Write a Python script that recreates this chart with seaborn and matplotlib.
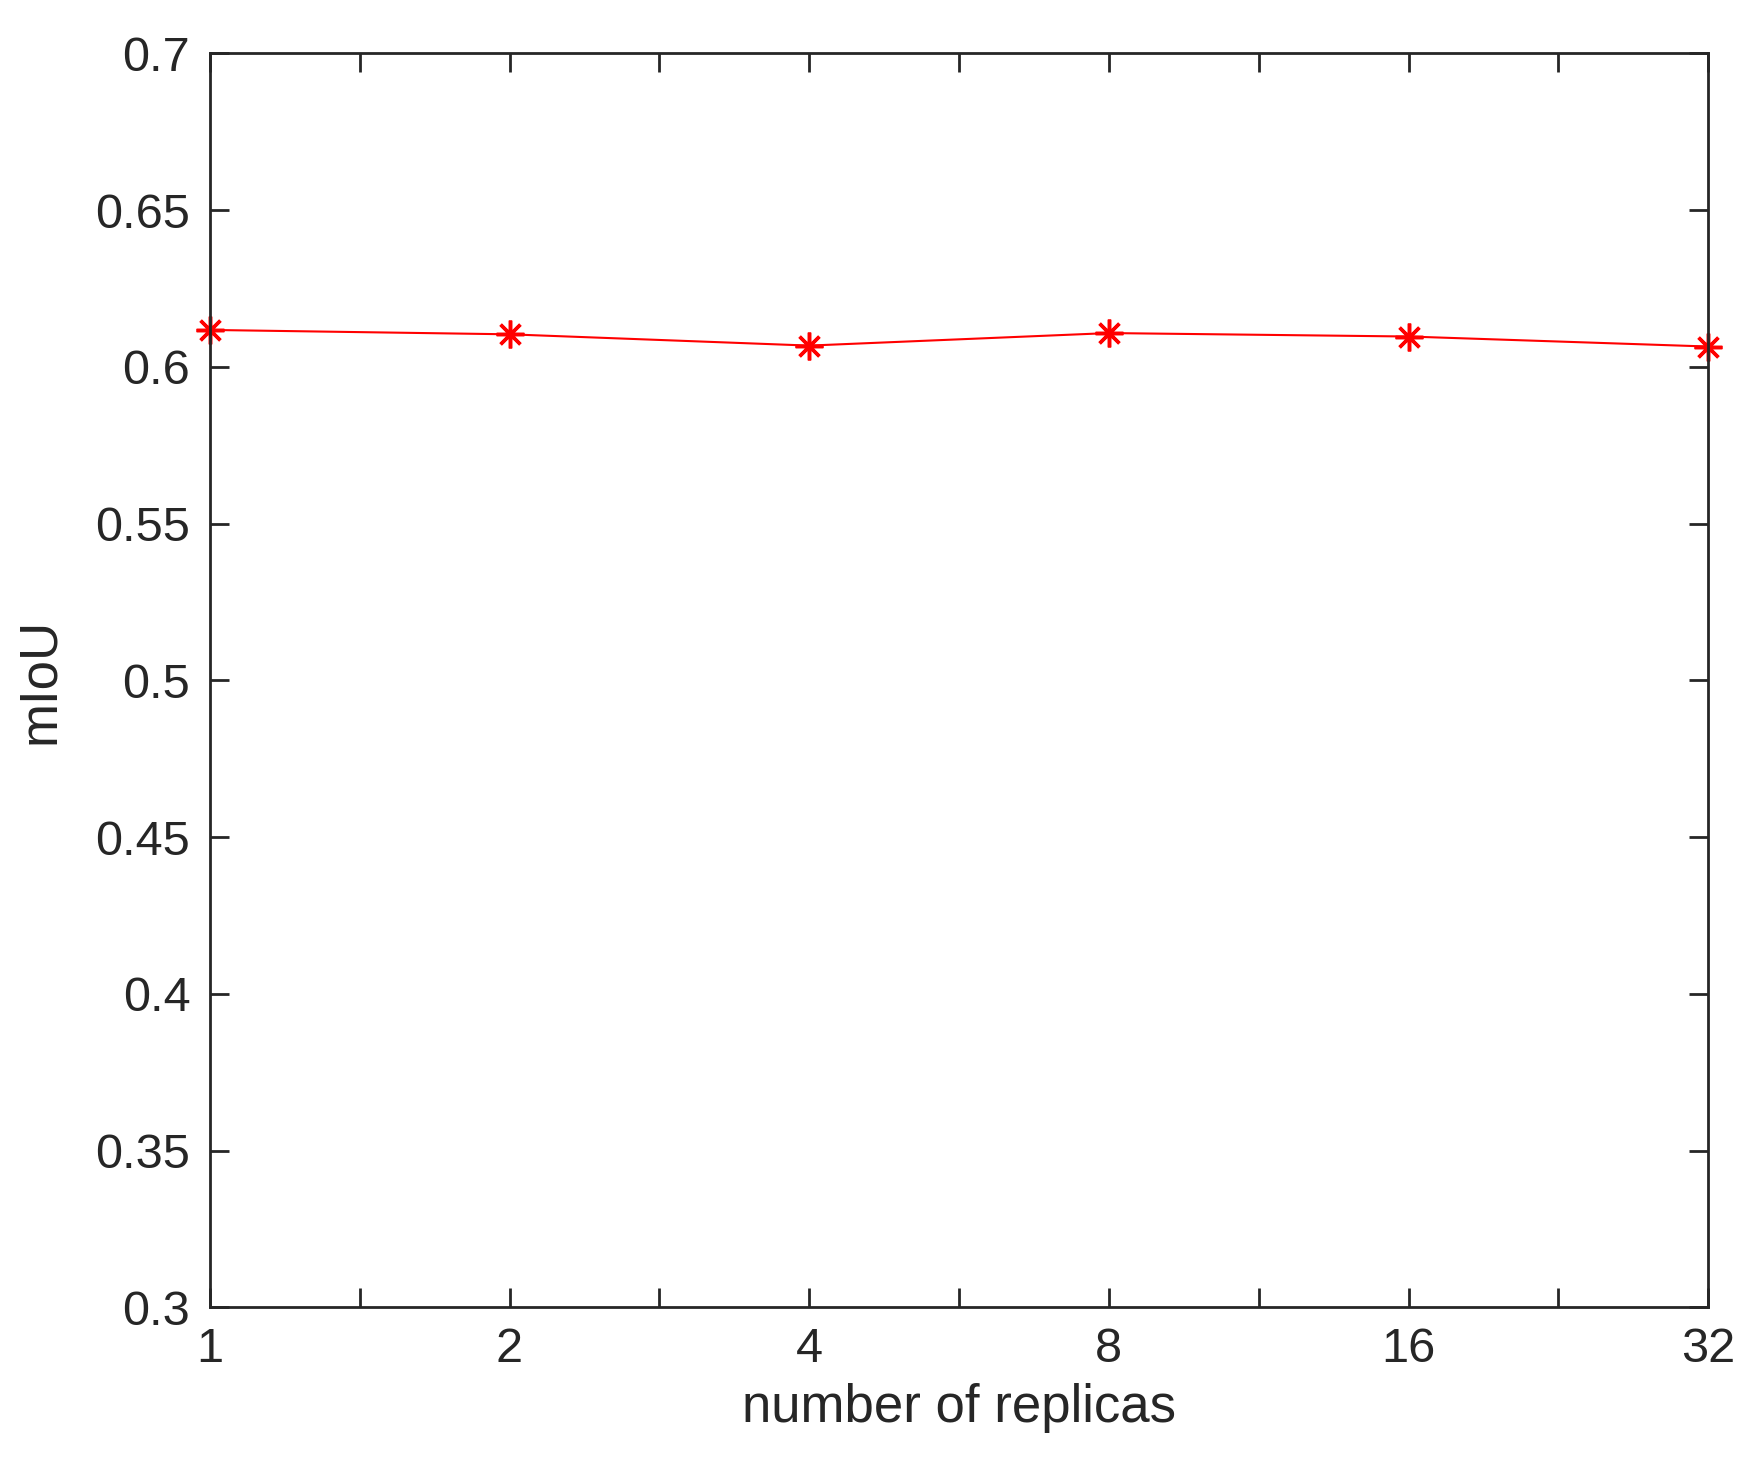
import matplotlib
matplotlib.use("Agg")
import matplotlib.pyplot as plt
import seaborn as sns
import numpy as np
import pandas as pd

replicas = ["1", "2", "4", "8", "16", "32"]
miou = [0.6118, 0.6104, 0.6068, 0.6108, 0.6097, 0.6065]

sns.set_theme(style="white")
plt.rcParams['font.family'] = ['Liberation Sans', 'DejaVu Sans']

fig = plt.figure(figsize=(17.63, 14.84), dpi=100)
ax = fig.add_axes([0.119, 0.119, 0.850, 0.845])
df = pd.DataFrame({"x": np.arange(len(replicas)), "y": miou})
sns.lineplot(data=df, x="x", y="y", ax=ax, color="red", lw=1.5,
             marker=(8, 2, 0), markersize=20, markeredgewidth=2.5, markeredgecolor="red")
for l in ax.lines:
    l.set_clip_on(False)
ax.set_xlim(0, len(replicas) - 1)
ax.set_ylim(0.3, 0.7)
ax.set_xticks(np.arange(len(replicas)))
ax.set_xticklabels(replicas)
ax.set_xticks(np.arange(len(replicas) - 1) + 0.5, minor=True)
ax.set_yticks(np.arange(0.3, 0.701, 0.05))
ax.set_yticklabels(["0.3", "0.35", "0.4", "0.45", "0.5", "0.55", "0.6", "0.65", "0.7"])
ax.tick_params(axis="both", which="both", direction="in", top=True, right=True,
               bottom=True, left=True,
               length=14, width=2, labelsize=35, colors="#262626", pad=14)
for s in ax.spines.values():
    s.set_linewidth(2)
    s.set_color("#262626")
ax.set_xlabel("number of replicas", fontsize=38, color="#262626", labelpad=8)
ax.set_ylabel("mIoU", fontsize=38, color="#262626", labelpad=22)
fig.savefig("out.png", dpi=100, facecolor="white")
